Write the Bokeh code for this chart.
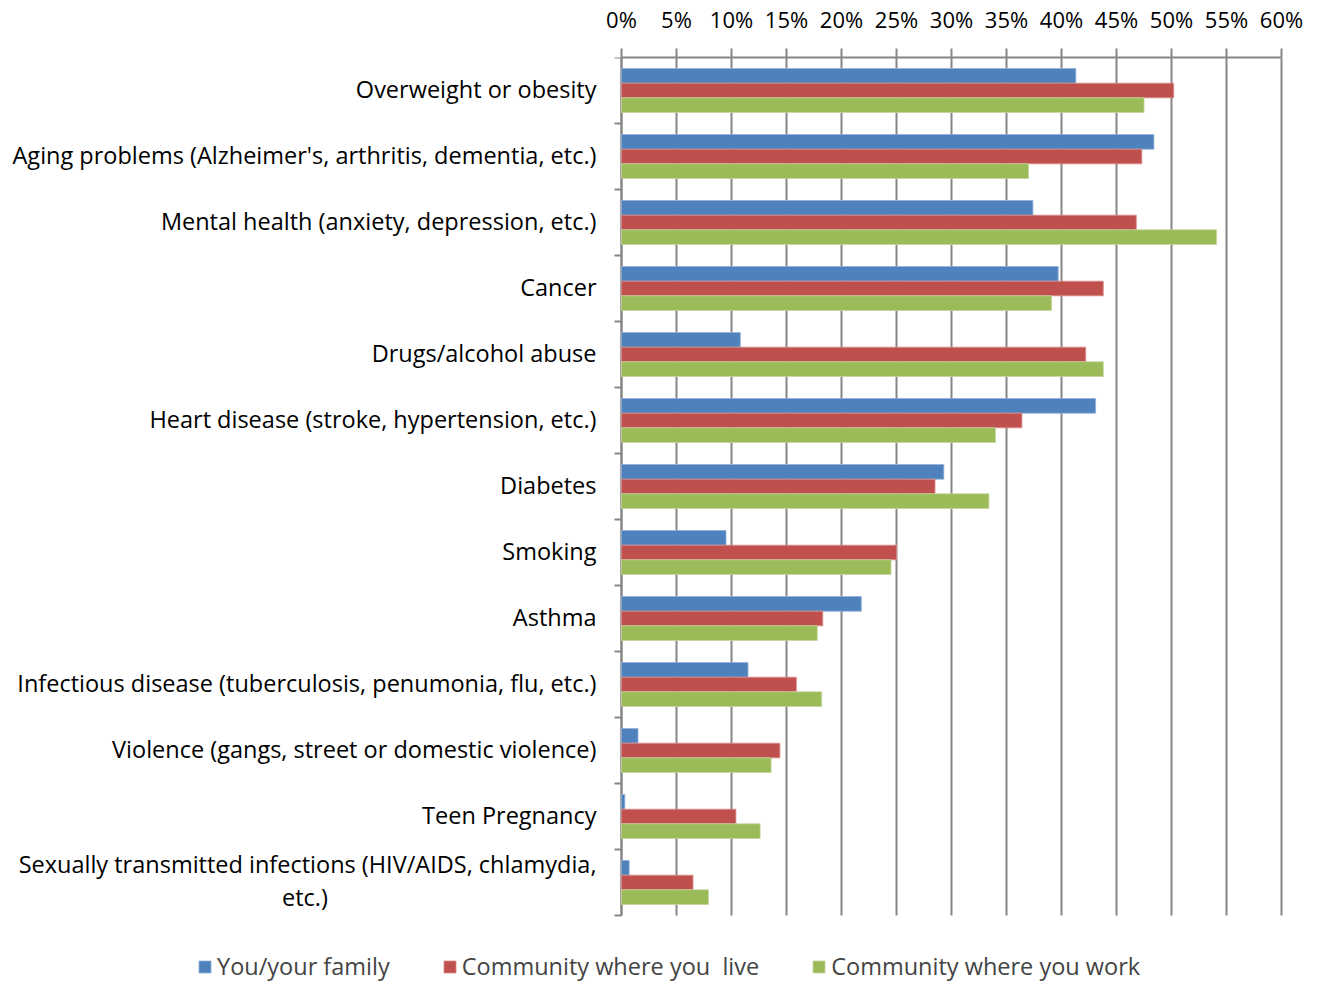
from bokeh.plotting import figure
from bokeh.models import ColumnDataSource, Range1d, FixedTicker, PrintfTickFormatter, Legend, LegendItem
from bokeh.core.properties import value
from bokeh.transform import dodge
from bokeh.embed import file_html
from bokeh.resources import INLINE

NB = "\u00a0"
categories = [
    "Overweight or obesity",
    "Aging problems (Alzheimer's, arthritis, dementia, etc.)",
    "Mental health (anxiety, depression, etc.)",
    "Cancer",
    "Drugs/alcohol abuse",
    "Heart disease (stroke, hypertension, etc.)",
    "Diabetes",
    "Smoking",
    "Asthma",
    "Infectious disease (tuberculosis, penumonia, flu, etc.)",
    "Violence (gangs, street or domestic violence)",
    "Teen Pregnancy",
    "Sexually transmitted infections (HIV/AIDS, chlamydia,\netc.)",
]
family = [41.3, 48.4, 37.4, 39.7, 10.8, 43.1, 29.3, 9.5, 21.8, 11.5, 1.5, 0.3, 0.7]
live = [50.2, 47.3, 46.8, 43.8, 42.2, 36.4, 28.5, 25.0, 18.3, 15.9, 14.4, 10.4, 6.5]
work = [47.5, 37.0, 54.1, 39.1, 43.8, 34.0, 33.4, 24.5, 17.8, 18.2, 13.6, 12.6, 7.9]
series_names = ["You/your family", "Community where you  live", "Community where you work"]
x_ticks = list(range(0, 61, 5))

FONT = "Open Sans"
GRAY = "#868686"
COLORS = ["#4F81BD", "#C0504D", "#9BBB59"]
EDGES = ["#8FB0D8", "#D98C8A", "#C3D69B"]

n = len(categories)
pos = [i + 0.5 for i in range(n)]
source = ColumnDataSource(dict(pos=pos, family=family, live=live, work=work))

# center the wrapped second line of the last label under its first line
label_texts = list(categories)
label_texts[-1] = label_texts[-1] + NB * 44
label_src = ColumnDataSource(dict(pos=pos, label=label_texts, zero=[0] * n))

# layout (pixels): the frame covers the whole figure so the labels and legend can sit in it
W, H = 1304, 982
TOP = 57            # top of category area (x axis line)
ZERO_X = 621        # pixel column of 0 %
PX_PER_PCT = 11.0   # 660 px for 0..60 %
PX_PER_CAT = 66.0
x_start = -ZERO_X / PX_PER_PCT
x_end = (W - ZERO_X) / PX_PER_PCT
y_bottom = (H - TOP) / PX_PER_CAT

p = figure(width=W, height=H, x_range=Range1d(x_start, x_end), y_range=Range1d(y_bottom, 0),
           x_axis_location="above", output_backend="svg", toolbar_location=None,
           min_border_left=0, min_border_right=0, min_border_top=TOP, min_border_bottom=0)
p.outline_line_color = None
p.xgrid.grid_line_color = None
p.ygrid.grid_line_color = None
p.yaxis.visible = False

# vertical gridlines at the x ticks over the category area
p.segment(x0=x_ticks, x1=x_ticks, y0=[0] * len(x_ticks), y1=[n] * len(x_ticks),
          line_color=GRAY, line_width=2)
# category axis: line and boundary ticks
bounds = list(range(n + 1))
p.segment(x0=[0], x1=[0], y0=[0], y1=[n], line_color=GRAY, line_width=2)
p.segment(x0=[-7 / PX_PER_PCT] * len(bounds), x1=[0] * len(bounds), y0=bounds, y1=bounds,
          line_color=GRAY, line_width=2)

bh = 0.222
r1 = p.hbar(y=dodge("pos", -bh, range=p.y_range), left=0, right="family", height=bh,
            fill_color=COLORS[0], line_color=EDGES[0], line_width=0.8, source=source)
r2 = p.hbar(y="pos", left=0, right="live", height=bh,
            fill_color=COLORS[1], line_color=EDGES[1], line_width=0.8, source=source)
r3 = p.hbar(y=dodge("pos", bh, range=p.y_range), left=0, right="work", height=bh,
            fill_color=COLORS[2], line_color=EDGES[2], line_width=0.8, source=source)

# category labels
p.text(x="zero", y="pos", text="label", source=label_src, x_offset=-25, y_offset=-2,
       text_align="right", text_baseline="middle", text_font=value(FONT),
       text_font_size="23.5px", text_color="#000000", text_line_height=1.03)

xa = p.xaxis[0]
xa.bounds = (0, 60)
xa.ticker = FixedTicker(ticks=x_ticks)
xa.formatter = PrintfTickFormatter(format="%d%%")
xa.axis_line_color = GRAY
xa.axis_line_width = 2
xa.major_tick_line_color = GRAY
xa.major_tick_line_width = 2
xa.major_tick_out = 9
xa.major_tick_in = 0
xa.minor_tick_line_color = None
xa.major_label_text_font = FONT
xa.major_label_text_font_size = "22px"
xa.major_label_text_color = "#000000"
xa.major_label_standoff = 15

legend = Legend(items=[LegendItem(label=name, renderers=[r]) for name, r in zip(series_names, [r1, r2, r3])],
                orientation="horizontal", location=(197, 0),
                border_line_color=None, background_fill_alpha=0,
                padding=0, margin=0, spacing=52, glyph_width=15, glyph_height=15,
                label_standoff=5, label_text_font=FONT, label_text_font_size="23.5px")
p.add_layout(legend)

open("out.html", "w").write(file_html(p, INLINE))
